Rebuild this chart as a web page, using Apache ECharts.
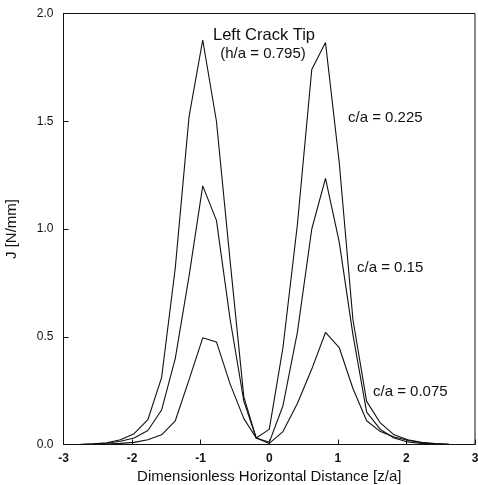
<!DOCTYPE html>
<html>
<head>
<meta charset="utf-8">
<script src="https://cdn.jsdelivr.net/npm/echarts@6/dist/echarts.min.js"></script>
<style>html,body{margin:0;padding:0;background:#fff}#c{width:478px;height:485px}</style>
</head>
<body>
<div id="c"></div>
<script>
// z/a positions of the computed points
const zPositions = [-2.77, -2.57, -2.37, -2.17, -1.97, -1.77, -1.57, -1.37, -1.17, -0.97, -0.77, -0.57, -0.37, -0.19, 0.0, 0.2, 0.41, 0.62, 0.82, 1.02, 1.22, 1.42, 1.62, 1.82, 2.02, 2.22, 2.42, 2.62];
// J [N/mm] for each c/a
const jCa0225 = [0, 0.003, 0.008, 0.022, 0.05, 0.115, 0.31, 0.82, 1.52, 1.877, 1.50, 0.85, 0.22, 0.03, 0.07, 0.45, 1.02, 1.74, 1.865, 1.31, 0.58, 0.20, 0.10, 0.045, 0.022, 0.01, 0.004, 0.001];
const jCa015  = [0, 0.002, 0.006, 0.015, 0.03, 0.065, 0.16, 0.40, 0.78, 1.20, 1.04, 0.58, 0.20, 0.03, 0.01, 0.18, 0.52, 1.0, 1.235, 0.94, 0.51, 0.15, 0.07, 0.03, 0.012, 0.005, 0.002, 0];
const jCa0075 = [0, 0.001, 0.002, 0.005, 0.01, 0.022, 0.045, 0.11, 0.30, 0.495, 0.476, 0.28, 0.12, 0.03, 0.005, 0.06, 0.19, 0.35, 0.52, 0.45, 0.26, 0.11, 0.06, 0.035, 0.02, 0.008, 0.003, 0.001];
const seriesNames = ['c/a = 0.225', 'c/a = 0.15', 'c/a = 0.075'];
const xTicks = [-3, -2, -1, 0, 1, 2, 3];
const yTicks = [0.0, 0.5, 1.0, 1.5, 2.0];

const pair = arr => zPositions.map((z, i) => [z, arr[i]]);
const FONT = '"Liberation Sans", Arial, sans-serif';
const ink = '#111';

const chart = echarts.init(document.getElementById('c'), null, {renderer: 'canvas'});
const lineSeries = [jCa0225, jCa015, jCa0075].map((arr, k) => ({
  name: seriesNames[k], type: 'line', data: pair(arr), showSymbol: false, symbol: 'none',
  lineStyle: {color: ink, width: 1.1}, silent: true, animation: false
}));
chart.setOption({
  animation: false,
  grid: {left: 63.5, right: 3, top: 13.5, bottom: 40.5, show: true, borderColor: ink, borderWidth: 1, outerBoundsMode: 'none', containLabel: false},
  xAxis: {
    type: 'value', min: xTicks[0], max: xTicks[xTicks.length - 1], interval: 1,
    name: 'Dimensionless Horizontal Distance [z/a]', nameLocation: 'middle', nameGap: 22,
    nameTextStyle: {fontFamily: FONT, fontSize: 15, color: ink},
    axisLine: {onZero: false, lineStyle: {color: ink, width: 1}},
    axisTick: {inside: true, length: 5, lineStyle: {color: ink}},
    axisLabel: {fontFamily: FONT, fontSize: 12, color: ink, margin: 8, fontWeight: 'bold'},
    splitLine: {show: false}
  },
  yAxis: {
    type: 'value', min: yTicks[0], max: yTicks[yTicks.length - 1], interval: 0.5,
    name: 'J [N/mm]', nameLocation: 'middle', nameGap: 44, nameRotate: 90,
    nameTextStyle: {fontFamily: FONT, fontSize: 15, color: ink},
    axisLine: {onZero: false, lineStyle: {color: ink, width: 1}},
    axisTick: {inside: true, length: 5, lineStyle: {color: ink}},
    axisLabel: {fontFamily: FONT, fontSize: 12, color: ink, margin: 10, formatter: v => v.toFixed(1)},
    splitLine: {show: false}
  },
  series: lineSeries,
  graphic: [
    {type: 'text', x: 264, y: 35, style: {text: 'Left Crack Tip', font: '16.5px ' + FONT, fill: ink, textAlign: 'center', textVerticalAlign: 'middle'}},
    {type: 'text', x: 263, y: 54, style: {text: '(h/a = 0.795)', font: '15px ' + FONT, fill: ink, textAlign: 'center', textVerticalAlign: 'middle'}},
    {type: 'text', x: 348, y: 118, style: {text: seriesNames[0], font: '15px ' + FONT, fill: ink, textVerticalAlign: 'middle'}},
    {type: 'text', x: 357, y: 268, style: {text: seriesNames[1], font: '15px ' + FONT, fill: ink, textVerticalAlign: 'middle'}},
    {type: 'text', x: 373, y: 392, style: {text: seriesNames[2], font: '15px ' + FONT, fill: ink, textVerticalAlign: 'middle'}}
  ]
});
</script>
</body>
</html>
